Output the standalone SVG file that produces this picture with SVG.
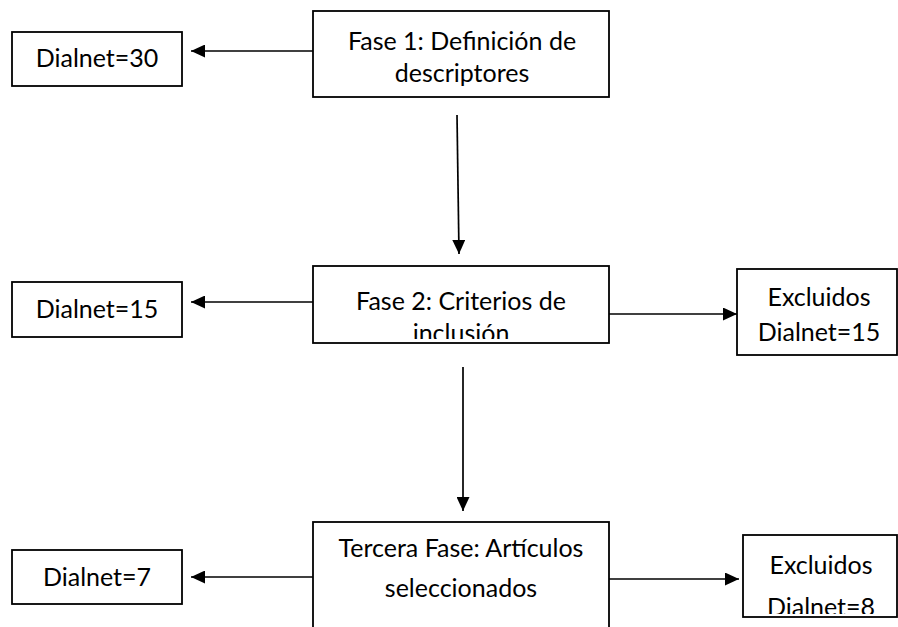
<svg xmlns="http://www.w3.org/2000/svg" width="898" height="627" viewBox="0 0 898 627">
  <style>
    .box { fill: #ffffff; stroke: #000000; stroke-width: 1.8; }
    .t { font-family: Lato, "Liberation Sans", sans-serif; font-size: 25px; fill: #000000; text-anchor: middle; }
    .c { stroke: #000000; stroke-width: 1.7; fill: none; marker-end: url(#ah); }
  </style>
  <defs>
    <marker id="ah" markerWidth="14" markerHeight="13" refX="14" refY="6.5" orient="auto" markerUnits="userSpaceOnUse">
      <path d="M0,0 L14,6.5 L0,13 z" fill="#000000"/>
    </marker>
    <clipPath id="clip2"><rect x="313" y="266" width="296" height="73"/></clipPath>
    <clipPath id="clip8"><rect x="743" y="535" width="155" height="79"/></clipPath>
  </defs>
  <rect width="898" height="627" fill="#ffffff"/>

  <g id="fase1">
    <rect class="box" x="313" y="11" width="296" height="86"/>
    <text class="t" x="462" y="50">Fase 1: Definición de</text>
    <text class="t" x="462" y="82">descriptores</text>
  </g>
  <g id="dialnet30">
    <rect class="box" x="12" y="32" width="170" height="54"/>
    <text class="t" x="97" y="67">Dialnet=30</text>
  </g>

  <g id="fase2">
    <rect class="box" x="313" y="266" width="296" height="77"/>
    <g clip-path="url(#clip2)">
      <text class="t" x="461" y="310">Fase 2: Criterios de</text>
      <text class="t" x="461" y="342">inclusión</text>
    </g>
  </g>
  <g id="dialnet15">
    <rect class="box" x="12" y="282" width="170" height="55"/>
    <text class="t" x="97" y="318">Dialnet=15</text>
  </g>
  <g id="excluidos15">
    <rect class="box" x="737" y="269" width="160" height="86"/>
    <text class="t" x="819" y="306">Excluidos</text>
    <text class="t" x="819" y="341">Dialnet=15</text>
  </g>

  <g id="fase3">
    <rect class="box" x="313" y="522" width="296" height="120"/>
    <text class="t" x="461" y="557">Tercera Fase: Artículos</text>
    <text class="t" x="461" y="597">seleccionados</text>
  </g>
  <g id="dialnet7">
    <rect class="box" x="12" y="550" width="170" height="54"/>
    <text class="t" x="97" y="586">Dialnet=7</text>
  </g>
  <g id="excluidos8">
    <rect class="box" x="743" y="535" width="154" height="82"/>
    <g clip-path="url(#clip8)">
      <text class="t" x="821" y="574">Excluidos</text>
      <text class="t" x="821" y="616">Dialnet=8</text>
    </g>
  </g>

  <g id="connectors">
    <line class="c" x1="313" y1="51" x2="191" y2="51"/>
    <line class="c" x1="457" y1="115" x2="459" y2="254"/>
    <line class="c" x1="313" y1="302" x2="191" y2="302"/>
    <line class="c" x1="609" y1="314" x2="737" y2="314"/>
    <line class="c" x1="463" y1="367" x2="463" y2="511"/>
    <line class="c" x1="313" y1="577" x2="191" y2="577"/>
    <line class="c" x1="609" y1="579" x2="739" y2="579"/>
  </g>
</svg>
